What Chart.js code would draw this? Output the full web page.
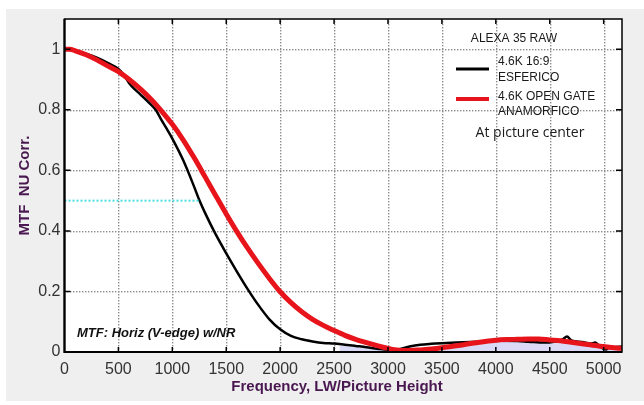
<!DOCTYPE html>
<html>
<head>
<meta charset="utf-8">
<script src="https://cdn.jsdelivr.net/npm/chart.js@4/dist/chart.umd.min.js"></script>
<style>
  html, body { margin: 0; padding: 0; background: #ffffff; }
  #wrap { position: relative; width: 644px; height: 405px; }
  canvas { display: block; }
</style>
</head>
<body>
<div id="wrap"><canvas id="c" width="644" height="405"></canvas></div>
<script>
// ---- data ----
const blackFreq = [0,100,200,300,400,500,550,600,650,700,800,850,900,950,1000,1100,1200,1250,1300,1400,1500,1600,1700,1800,1900,2000,2100,2200,2300,2400,2500,2600,2700,2800,2900,3000,3100,3200,3300,3400,3500,3700,3900,4050,4200,4300,4450,4550,4620,4660,4700,4800,4880,4920,4960,5020,5060,5100,5170];
const blackMTF  = [1.0,0.995,0.985,0.972,0.955,0.935,0.915,0.888,0.868,0.852,0.818,0.798,0.766,0.736,0.705,0.634,0.548,0.502,0.462,0.390,0.326,0.265,0.207,0.154,0.108,0.075,0.053,0.042,0.035,0.030,0.028,0.024,0.020,0.016,0.011,0.007,0.009,0.018,0.024,0.027,0.029,0.032,0.035,0.037,0.036,0.034,0.031,0.035,0.042,0.051,0.038,0.033,0.028,0.031,0.020,0.008,0.018,0.016,0.018];

const redFreq = [0,50,100,200,300,400,500,600,700,800,900,1000,1100,1200,1300,1400,1500,1600,1700,1800,1900,2000,2100,2200,2300,2400,2500,2600,2700,2800,2900,3000,3100,3200,3300,3400,3500,3600,3700,3800,3900,4000,4100,4200,4300,4400,4500,4600,4700,4800,4900,5000,5100,5170];
const redMTF  = [1.0,1.0,0.995,0.982,0.965,0.945,0.926,0.900,0.870,0.836,0.796,0.752,0.701,0.643,0.581,0.518,0.456,0.397,0.342,0.291,0.243,0.199,0.163,0.133,0.108,0.088,0.071,0.055,0.042,0.031,0.021,0.012,0.006,0.005,0.007,0.010,0.014,0.019,0.024,0.030,0.035,0.039,0.041,0.042,0.043,0.043,0.040,0.037,0.032,0.027,0.022,0.018,0.014,0.012];

const shadeFreq = [2550,2700,2900,3000,3100,3300,3500,3800,4100,4400,4700,5000,5170];
const shadeMTF  = [0.020,0.018,0.011,0.007,0.004,0.007,0.014,0.030,0.036,0.034,0.032,0.012,0.012];

const cyanFreq = [0, 1260];
const cyanMTF  = [0.5, 0.5];

const xTickValues = [0,500,1000,1500,2000,2500,3000,3500,4000,4500,5000];
const yTickValues = [0,0.2,0.4,0.6,0.8,1];
const xMax = 5170, yMax = 1.1;

const seriesLabels = ['4.6K 16:9 ESFERICO', '4.6K OPEN GATE ANAMORFICO'];
const xTitle = 'Frequency, LW/Picture Height';
const yTitle = 'MTF  NU Corr.';
const noteText = 'MTF: Horiz (V-edge) w/NR';
const headerText = 'ALEXA 35 RAW';
const footerText = 'At picture center';

const pts = (xs, ys) => xs.map((x, i) => ({x, y: ys[i]}));

function drawGrid(chart) {
  const ctx = chart.ctx;
  const a = chart.chartArea;
  const xs = chart.scales.x, ys = chart.scales.y;
  ctx.save();
  ctx.fillStyle = '#8c8c8c';
  xTickValues.forEach(v => {
    if (v <= 0) return;
    const px = Math.round(xs.getPixelForValue(v));
    for (let y = Math.ceil(a.top) + 2; y < a.bottom; y += 3) ctx.fillRect(px, y, 1.4, 1.4);
  });
  yTickValues.forEach(v => {
    if (v <= 0) return;
    const py = Math.round(ys.getPixelForValue(v));
    for (let x = Math.ceil(a.left) + 2; x < a.right; x += 3) ctx.fillRect(x, py, 1.4, 1.4);
  });
  ctx.restore();
}

const bgPlugin = {
  id: 'bgfill',
  beforeDraw(chart) {
    const ctx = chart.ctx;
    const a = chart.chartArea;
    ctx.save();
    ctx.fillStyle = '#ffffff';
    ctx.fillRect(0, 0, 644, 405);
    ctx.fillStyle = '#efefef';
    ctx.fillRect(6, 9, 638, 392);
    ctx.fillStyle = '#ffffff';
    ctx.fillRect(a.left, a.top, a.right - a.left, a.bottom - a.top);
    ctx.restore();
    drawGrid(chart);
  }
};

const framePlugin = {
  id: 'frame',
  afterDraw(chart) {
    const ctx = chart.ctx;
    const a = chart.chartArea;
    const xs = chart.scales.x, ys = chart.scales.y;
    ctx.save();
    ctx.strokeStyle = '#000';
    ctx.lineWidth = 1.5;
    ctx.beginPath();
    xTickValues.forEach(v => {
      const px = xs.getPixelForValue(v);
      if (v > 0) {
        ctx.moveTo(px, a.bottom); ctx.lineTo(px, a.bottom - 5);
        ctx.moveTo(px, a.top); ctx.lineTo(px, a.top + 5);
      }
    });
    yTickValues.forEach(v => {
      const py = ys.getPixelForValue(v);
      if (v > 0) {
        ctx.moveTo(a.left, py); ctx.lineTo(a.left + 6, py);
        ctx.moveTo(a.right, py); ctx.lineTo(a.right - 6, py);
      }
    });
    ctx.stroke();
    ctx.lineWidth = 1.5;
    ctx.strokeRect(a.left, a.top, a.right - a.left, a.bottom - a.top);
    ctx.lineWidth = 2.2;
    ctx.beginPath();
    ctx.moveTo(a.left, a.top); ctx.lineTo(a.left, a.bottom); ctx.lineTo(a.right, a.bottom);
    ctx.stroke();

    ctx.fillStyle = '#4a1850';
    ctx.font = 'bold 15px "Liberation Sans", Arial, sans-serif';
    ctx.textAlign = 'center';
    ctx.textBaseline = 'middle';
    ctx.fillText(xTitle, 337, 387);
    ctx.save();
    ctx.translate(25, (a.top + a.bottom) / 2);
    ctx.rotate(-Math.PI / 2);
    ctx.fillText(yTitle, 0, 0);
    ctx.restore();

    ctx.fillStyle = '#111';
    ctx.font = 'italic bold 13px "Liberation Sans", Arial, sans-serif';
    ctx.textAlign = 'left';
    ctx.fillText(noteText, 77, 333);

    ctx.fillStyle = '#1a1a1a';
    ctx.font = '12px "Liberation Sans Narrow", "Liberation Sans", Arial, sans-serif';
    ctx.textAlign = 'center';
    ctx.fillText(headerText, 514, 39);
    ctx.textAlign = 'left';
    ctx.fillText('4.6K 16:9', 498, 62);
    ctx.fillText('ESFERICO', 498, 78);
    ctx.fillText('4.6K OPEN GATE', 498, 97);
    ctx.fillText('ANAMORFICO', 498, 112);
    ctx.font = '14px "Open Sans", sans-serif';
    ctx.textAlign = 'center';
    ctx.fillText(footerText, 530, 133);

    ctx.lineCap = 'butt';
    ctx.strokeStyle = '#000';
    ctx.lineWidth = 3;
    ctx.beginPath(); ctx.moveTo(456, 69); ctx.lineTo(489, 69); ctx.stroke();
    ctx.strokeStyle = '#e8141b';
    ctx.lineWidth = 4;
    ctx.beginPath(); ctx.moveTo(456, 99); ctx.lineTo(489, 99); ctx.stroke();
    ctx.restore();
  }
};

new Chart(document.getElementById('c'), {
  type: 'line',
  data: {
    datasets: [
      { label: 'shade', data: pts(shadeFreq, shadeMTF), borderWidth: 0, pointRadius: 0,
        fill: 'origin', backgroundColor: 'rgba(214,214,246,0.9)', order: 5, tension: 0.3 },
      { label: seriesLabels[0], data: pts(blackFreq, blackMTF), borderColor: '#000000',
        borderWidth: 2.5, pointRadius: 0, fill: false, cubicInterpolationMode: 'monotone', order: 2 },
      { label: seriesLabels[1], data: pts(redFreq, redMTF), borderColor: '#e8141b',
        borderWidth: 5, pointRadius: 0, fill: false, cubicInterpolationMode: 'monotone', order: 1 },
      { label: 'mtf50', data: pts(cyanFreq, cyanMTF), borderColor: '#45dfe8',
        borderWidth: 2, borderDash: [2, 2], pointRadius: 0, fill: false, order: 0 }
    ]
  },
  options: {
    responsive: false,
    devicePixelRatio: 1,
    animation: false,
    layout: { padding: { top: 19, right: 22, left: 0, bottom: 0 } },
    plugins: { legend: { display: false }, tooltip: { enabled: false } },
    scales: {
      x: {
        type: 'linear', min: 0, max: xMax,
        afterFit: s => { s.height = 53; },
        afterBuildTicks: s => { s.ticks = xTickValues.map(v => ({ value: v })); },
        grid: { display: false, drawTicks: false },
        border: { display: false },
        ticks: { padding: 8, color: '#333', font: { family: '"Liberation Sans", Arial, sans-serif', size: 16 },
                 maxRotation: 0, callback: v => String(v) }
      },
      y: {
        type: 'linear', min: 0, max: yMax,
        afterFit: s => { s.width = 64.5; },
        afterBuildTicks: s => { s.ticks = yTickValues.map(v => ({ value: v })); },
        grid: { display: false, drawTicks: false },
        border: { display: false },
        ticks: { padding: 4, color: '#333', font: { family: '"Liberation Sans", Arial, sans-serif', size: 16 },
                 callback: v => String(Math.round(v * 10) / 10) }
      }
    }
  },
  plugins: [bgPlugin, framePlugin]
});
</script>
</body>
</html>
